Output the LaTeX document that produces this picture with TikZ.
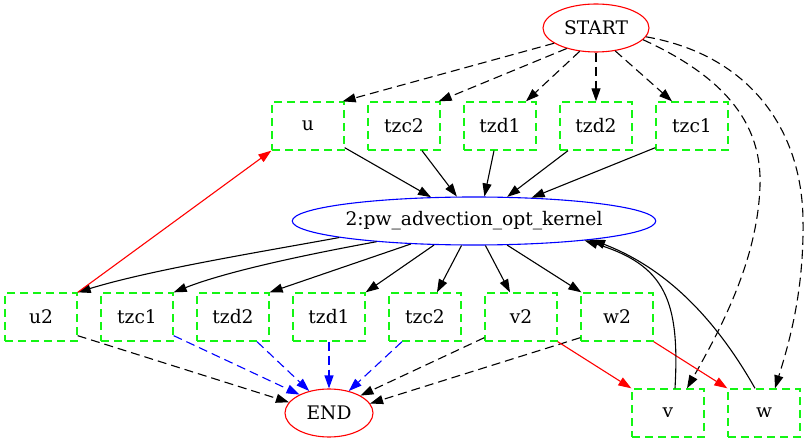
\documentclass[tikz,border=0pt]{standalone}
\usepackage{fontspec}
\setmainfont{DejaVu Serif}
\usetikzlibrary{arrows.meta,shapes.geometric}
\definecolor{gvgreen}{RGB}{20,245,20}
\begin{document}
\begin{tikzpicture}[x=1pt,y=-1pt,
  every node/.style={font=\fontsize{18.67}{22}\selectfont, inner sep=0pt},
  box/.style={draw=gvgreen, dash pattern=on 8pt off 5pt, line width=1.33pt, minimum width=72pt, minimum height=48pt},
  oval/.style={ellipse, line width=1.1pt, minimum height=48pt},
  edge/.style={line width=1.1pt, -{Triangle[length=13pt,width=9pt]}},
  dedge/.style={edge, dash pattern=on 9pt off 5pt},
]
\useasboundingbox (0,0) rectangle (808,443);

% nodes
\node[oval, draw=red, minimum width=106pt] (START) at (596,28) {START};
\node[box] (r1u) at (308,126) {u};
\node[box] (r1tzc2) at (404,126) {tzc2};
\node[box] (r1tzd1) at (500,126) {tzd1};
\node[box] (r1tzd2) at (596,126) {tzd2};
\node[box] (r1tzc1) at (692,126) {tzc1};
\node[oval, draw=blue, minimum width=363pt] (kernel) at (474,221) {2:pw\_advection\_opt\_kernel};
\node[box] (r2u2) at (41,317) {u2};
\node[box] (r2tzc1) at (137,317) {tzc1};
\node[box] (r2tzd2) at (233,317) {tzd2};
\node[box] (r2tzd1) at (329,317) {tzd1};
\node[box] (r2tzc2) at (425,317) {tzc2};
\node[box] (r2v2) at (521,317) {v2};
\node[box] (r2w2) at (617,317) {w2};
\node[oval, draw=red, minimum width=88pt] (END) at (329,413) {END};
\node[box] (v) at (668,413) {v};
\node[box] (w) at (764,413) {w};

% START -> row 1
\draw[dedge] (START.200) -- ([xshift=-2pt]r1u.north east);
\draw[dedge] (START.215) -- ([xshift=-2pt]r1tzc2.north east);
\draw[dedge] (START.235) -- ([xshift=26pt]r1tzd1.north);
\draw[dedge] (START.south) -- (r1tzd2.north);
\draw[dedge] (START.-50) -- ([xshift=-20pt]r1tzc1.north);
\draw[dedge] (START.-14) .. controls (720,75) and (762,120) .. (760,185)
  .. controls (758,260) and (720,330) .. ([xshift=19pt]v.north);
\draw[dedge] (START.-10) .. controls (750,55) and (802,130) .. (803,220)
  .. controls (804,290) and (790,340) .. ([xshift=11pt]w.north);

% row 1 -> kernel
\draw[edge] ([yshift=3pt]r1u.south east) -- (kernel.151);
\draw[edge] ([xshift=18pt]r1tzc2.south) -- (kernel.125);
\draw[edge] ([xshift=-6pt]r1tzd1.south) -- (kernel.67);
\draw[edge] ([xshift=-28pt]r1tzd2.south) -- (kernel.36);
\draw[edge] ([yshift=3pt]r1tzc1.south west) -- (kernel.22);

% kernel -> row 2
\draw[edge] (kernel.187) .. controls (260,252) and (150,270) .. (r2u2.north east);
\draw[edge] (kernel.192) .. controls (320,252) and (230,270) .. (r2tzc1.north east);
\draw[edge] (kernel.200) -- (r2tzd2.north east);
\draw[edge] (kernel.211) -- (r2tzd1.north east);
\draw[edge] (kernel.243) -- ([xshift=12pt]r2tzc2.north);
\draw[edge] (kernel.-65) -- ([xshift=-11pt]r2v2.north);
\draw[edge] (kernel.-36) -- ([xshift=1pt]r2w2.north west);

% row 2 -> END
\draw[dedge] ([yshift=6pt]r2u2.south east) -- (END.165);
\draw[dedge, blue] ([yshift=6pt]r2tzc1.south east) -- (END.148);
\draw[dedge, blue] ([xshift=24pt]r2tzd2.south) -- (END.132);
\draw[dedge, blue] (r2tzd1.south) -- (END.north);
\draw[dedge, blue] ([xshift=-23pt]r2tzc2.south) -- (END.48);
\draw[dedge] ([yshift=4pt]r2v2.south west) -- (END.29);
\draw[dedge] ([yshift=4pt]r2w2.south west) -- (END.13);

% red edges
\draw[edge, red] (r2u2.north east) -- (r1u.south west);
\draw[edge, red] (r2v2.south east) -- (v.north west);
\draw[edge, red] (r2w2.south east) -- (w.north west);

% v, w -> kernel
\draw[edge] ([xshift=7pt]v.north) .. controls (680,300) and (665,265) .. (kernel.-10.5);
\draw[edge] ([xshift=-9pt]w.north) .. controls (705,300) and (650,262) .. (kernel.-9);
\end{tikzpicture}
\end{document}
